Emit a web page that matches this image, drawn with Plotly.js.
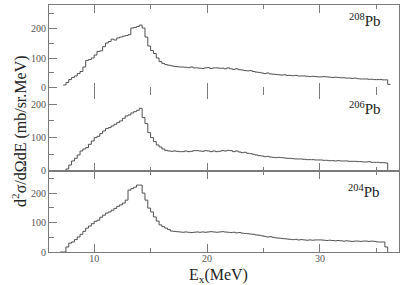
<!DOCTYPE html>
<html>
<head>
<meta charset="utf-8">
<script src="https://cdn.plot.ly/plotly-3.0.1.min.js"></script>
<style>html,body{margin:0;padding:0;background:#fff}#chart{width:407px;height:285px}</style>
</head>
<body>
<div id="chart"></div>
<script>
// Histogram bins: left edge of each bin (MeV)
const binStart = 6.0;
const binWidth = 0.25;

// 208Pb (top panel), d2sigma/dOmega dE (mb/sr.MeV)
const pb208 = [
  null,null,null,null,
  null,10,18,28,
  35,40,48,55,
  70,92,95,100,
  110,122,124,138,
  150,155,163,160,
  167,170,173,175,
  178,200,202,205,
  210,200,170,140,
  125,115,100,88,
  82,78,76,74,
  72,71,70,70,
  69,68,70,67,
  67,66,65,67,
  68,65,67,67,
  66,66,64,67,
  64,62,64,61,
  60,58,57,58,
  55,53,52,50,
  48,50,47,46,
  45,44,43,44,
  42,42,41,42,
  40,40,40,39,
  38,39,38,37,
  37,38,37,36,
  35,36,35,34,
  34,33,33,32,
  33,31,30,30,
  30,29,29,28,
  28,28,27,27,
  12,12,null,null,
  null
];

// 206Pb (middle panel)
const pb206 = [
  0,0,0,0,
  0,0,6,18,
  30,38,48,60,
  66,70,80,90,
  100,104,112,120,
  127,130,135,140,
  145,150,158,165,
  168,174,178,182,
  188,160,142,115,
  100,88,78,72,
  66,62,60,59,
  60,59,58,58,
  60,58,59,61,
  61,60,59,61,
  60,58,60,58,
  59,61,60,62,
  61,58,60,57,
  55,56,53,52,
  50,48,46,45,
  43,44,42,41,
  40,41,40,39,
  38,38,37,36,
  36,36,35,34,
  34,34,33,33,
  33,32,32,31,
  31,30,31,30,
  30,30,29,29,
  29,28,28,27,
  27,28,26,26,
  26,25,25,24,
  0,0,0,0,
  0
];

// 204Pb (bottom panel)
const pb204 = [
  null,null,null,null,
  0,0,17,30,
  34,42,51,60,
  70,81,88,96,
  104,108,118,125,
  132,136,142,148,
  155,160,166,176,
  210,215,220,227,
  227,200,176,149,
  136,119,105,92,
  86,81,76,71,
  70,69,68,67,
  68,67,66,67,
  68,67,68,67,
  68,69,68,67,
  68,69,68,67,
  66,67,65,66,
  64,63,62,61,
  60,58,57,55,
  53,51,52,50,
  48,47,46,45,
  44,43,42,43,
  41,42,41,40,
  41,40,41,41,
  41,40,39,40,
  39,38,39,38,
  37,38,37,36,
  37,37,36,37,
  37,36,37,36,
  34,34,34,17,
  0,null,null,null,
  null
];

const panelLabels = ['<sup>208</sup>Pb', '<sup>206</sup>Pb', '<sup>204</sup>Pb'];
const xTickVals = [10, 20, 30];
const yTickVals = [0, 100, 200];

const energy = pb208.map((_, i) => binStart + i * binWidth);

const lineStyle = {color: '#505050', width: 1, shape: 'hv'};
function tr(y, xa, ya) {
  return {x: energy, y: y, xaxis: xa, yaxis: ya, type: 'scatter', mode: 'lines',
          line: lineStyle, connectgaps: false, showlegend: false, hoverinfo: 'skip'};
}
const data = [
  tr(pb208, 'x', 'y'),
  tr(pb206, 'x2', 'y2'),
  tr(pb204, 'x3', 'y3'),
  {x: [null], y: [null], xaxis: 'x4', yaxis: 'y', showlegend: false, hoverinfo: 'skip'},
  {x: [null], y: [null], xaxis: 'x5', yaxis: 'y2', showlegend: false, hoverinfo: 'skip'}
];

const fnt = 'Liberation Serif';
const axCol = '#7a7a7a';
function xax(extra) {
  return Object.assign({
    range: [6, 37], tickmode: 'array', tickvals: xTickVals, ticks: 'inside', ticklen: 8,
    tickcolor: axCol, linecolor: axCol, linewidth: 1, showgrid: false, zeroline: false,
    showticklabels: false, tickfont: {family: fnt, size: 10, color: '#555'},
    minor: {ticks: 'inside', ticklen: 4, dtick: 5, tick0: 0, tickcolor: axCol, showgrid: false}
  }, extra);
}
function yax(extra) {
  return Object.assign({
    tickmode: 'array', tickvals: yTickVals, ticks: 'inside', ticklen: 8,
    tickcolor: axCol, linecolor: axCol, linewidth: 1, showline: true, mirror: true,
    showgrid: false, zeroline: false, tickfont: {family: fnt, size: 10, color: '#555'},
    minor: {ticks: 'inside', ticklen: 5, dtick: 50, tick0: 0, tickcolor: axCol, showgrid: false}
  }, extra);
}

const layout = {
  width: 407, height: 285,
  margin: {l: 49, r: 8, t: 5, b: 33},
  paper_bgcolor: '#fff', plot_bgcolor: '#fff',
  showlegend: false,
  font: {family: fnt},
  xaxis: xax({anchor: 'y', side: 'top', showline: true}),
  xaxis4: xax({anchor: 'y', overlaying: 'x', side: 'bottom', showline: false}),
  xaxis2: xax({anchor: 'y2', side: 'bottom', showline: true}),
  xaxis5: xax({anchor: 'y2', overlaying: 'x2', side: 'top', showline: false}),
  xaxis3: xax({anchor: 'y3', side: 'bottom', showline: true, mirror: 'ticks', showticklabels: true,
               ticklabelstandoff: -3}),
  yaxis: yax({domain: [0.652, 1], range: [-10, 277], anchor: 'x'}),
  yaxis2: yax({domain: [0.328, 0.652], range: [0, 240], anchor: 'x2'}),
  yaxis3: yax({domain: [0, 0.328], range: [0, 275], anchor: 'x3'}),
  annotations: [
    {text: 'd<sup>2</sup>σ/dΩdE (mb/sr.MeV)', xref: 'paper', yref: 'paper', x: -0.083, y: 0.49,
     textangle: -90, xanchor: 'center', yanchor: 'middle', showarrow: false,
     font: {family: fnt, size: 16, color: '#222'}},
    {text: 'E<sub>x</sub>(MeV)', xref: 'paper', yref: 'paper', x: 0.483, y: -0.095,
     xanchor: 'center', yanchor: 'middle', showarrow: false,
     font: {family: fnt, size: 16, color: '#222'}},
    {text: panelLabels[0], xref: 'paper', yref: 'paper', x: 0.955, y: 0.94,
     xanchor: 'right', yanchor: 'middle', showarrow: false, font: {family: fnt, size: 15, color: '#222'}},
    {text: panelLabels[1], xref: 'paper', yref: 'paper', x: 0.955, y: 0.585,
     xanchor: 'right', yanchor: 'middle', showarrow: false, font: {family: fnt, size: 15, color: '#222'}},
    {text: panelLabels[2], xref: 'paper', yref: 'paper', x: 0.95, y: 0.245,
     xanchor: 'right', yanchor: 'middle', showarrow: false, font: {family: fnt, size: 15, color: '#222'}}
  ]
};

Plotly.newPlot('chart', data, layout, {staticPlot: true, displayModeBar: false});
</script>
</body>
</html>
